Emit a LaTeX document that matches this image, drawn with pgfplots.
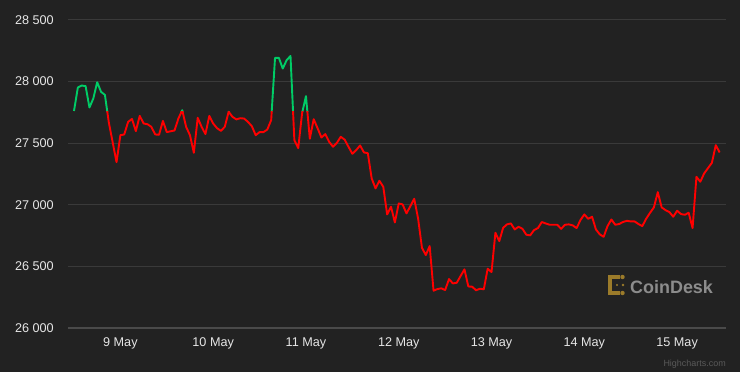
\documentclass[border=0pt]{standalone}
\usepackage{pgfplots}
\pgfplotsset{compat=1.18}
\usepackage{pgfplotstable}
\usepackage{fontspec}
\setmainfont{Liberation Sans}
\definecolor{bg}{HTML}{222222}
\definecolor{gridc}{HTML}{3A3A3A}
\definecolor{basec}{HTML}{4A4A4A}
\definecolor{upc}{HTML}{00CC66}
\definecolor{downc}{HTML}{FF0000}
\definecolor{labc}{HTML}{E6E6E6}
\definecolor{logoc}{HTML}{9B7B2A}
\definecolor{logotext}{HTML}{8C8C8C}

\pgfplotstableread{
h p
-12 27762
-11 27952
-10 27968
-9 27963
-8 27790
-7 27863
-6 27995
-5 27917
-4 27892
-3 27670
-2 27508
-1 27346
0 27565
1 27571
2 27673
3 27697
4 27598
5 27722
6 27660
7 27654
8 27633
9 27571
10 27568
11 27681
12 27590
13 27597
14 27603
15 27700
16 27768
17 27633
18 27565
19 27422
20 27706
21 27633
22 27574
23 27722
24 27660
25 27622
26 27600
27 27633
28 27755
29 27714
30 27693
31 27703
32 27700
33 27673
34 27638
35 27565
36 27590
37 27590
38 27611
39 27687
40 28192
41 28192
42 28106
43 28174
44 28208
45 27525
46 27460
47 27744
48 27882
49 27536
50 27695
51 27622
52 27546
53 27574
54 27511
55 27471
56 27503
57 27552
58 27529
59 27471
60 27414
61 27444
62 27482
63 27425
64 27419
65 27214
66 27133
67 27195
68 27146
69 26922
70 26984
71 26857
72 27011
73 27003
74 26930
75 26989
76 27049
77 26890
78 26651
79 26592
80 26665
81 26303
82 26316
83 26322
84 26308
85 26397
86 26362
87 26367
88 26422
89 26476
90 26337
91 26335
92 26306
93 26319
94 26314
95 26481
96 26454
97 26773
98 26705
99 26813
100 26841
101 26849
102 26800
103 26822
104 26805
105 26757
106 26752
107 26795
108 26811
109 26860
110 26849
111 26838
112 26838
113 26838
114 26805
115 26838
116 26841
117 26833
118 26811
119 26876
120 26922
121 26886
122 26903
123 26800
124 26760
125 26740
126 26827
127 26881
128 26838
129 26844
130 26860
131 26870
132 26865
133 26865
134 26844
135 26827
136 26887
137 26935
138 26979
139 27103
140 26979
141 26957
142 26941
143 26903
144 26952
145 26925
146 26919
147 26935
148 26811
149 27227
150 27187
151 27255
152 27298
153 27341
154 27484
155 27425
}\pricedata

\begin{document}
\begin{tikzpicture}[x=1bp,y=1bp]
\fill[bg] (0,0) rectangle (740,372);
\useasboundingbox (0,0) rectangle (740,372);
\begin{axis}[
  at={(68bp,44bp)}, anchor=south west,
  scale only axis, width=658bp, height=308bp,
  xmin=-13.55, xmax=156.65, ymin=26000, ymax=28500,
  scaled y ticks=false,
  axis line style={draw=none},
  major tick length=0pt,
  tick style={draw=none},
  ymajorgrids, grid style={gridc, line width=1bp},
  ytick={26000,26500,27000,27500,28000,28500},
  yticklabels={26 000,26 500,27 000,27 500,28 000,28 500},
  xtick={0,24,48,72,96,120,144},
  xticklabels={9 May,10 May,11 May,12 May,13 May,14 May,15 May},
  ticklabel style={font=\fontsize{12.7}{14}\selectfont, text=labc, inner sep=0pt},
  yticklabel style={anchor=east, xshift=-14bp},
  xticklabel style={anchor=north, yshift=-9.5bp},
]
\draw[basec, line width=1.2bp] (rel axis cs:0,0) -- (rel axis cs:1,0);
\begin{scope}
\clip (axis cs:-20,27760) rectangle (axis cs:200,29000);
\addplot[upc, line width=1.9bp, line join=round, no marks] table[x=h,y=p] {\pricedata};
\end{scope}
\begin{scope}
\clip (axis cs:-20,25000) rectangle (axis cs:200,27760);
\addplot[downc, line width=1.9bp, line join=round, no marks] table[x=h,y=p] {\pricedata};
\end{scope}
\end{axis}
% CoinDesk watermark
\fill[logoc] (608,77) rectangle (612,97);
\fill[logoc] (608,93) rectangle (620,97);
\fill[logoc] (608,77) rectangle (620,81);
\fill[logoc] (622.5,95) circle (2.2);
\fill[logoc] (622.5,79) circle (2.2);
\fill[logoc] (623,87) circle (1.3);
\fill[logoc] (617,87) circle (1.1);
\node[anchor=base west, inner sep=0pt, text=logotext, font=\bfseries\fontsize{18}{20}\selectfont] at (630,79) {CoinDesk};
\node[anchor=base east, inner sep=0pt, text=gray!70!black, font=\fontsize{9}{10}\selectfont] at (726,6) {Highcharts.com};
\end{tikzpicture}
\end{document}
